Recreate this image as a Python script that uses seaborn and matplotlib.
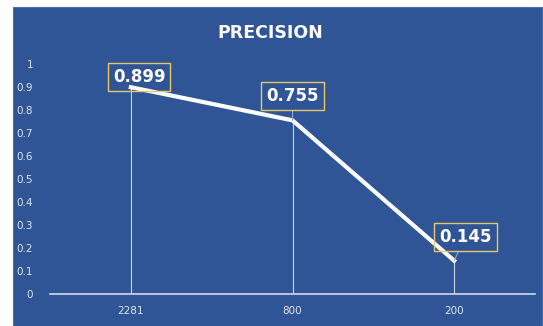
import pandas as pd
import seaborn as sns
import matplotlib.pyplot as plt
from matplotlib.patches import Rectangle

sizes = ['2281', '800', '200']
precision = [0.899, 0.755, 0.145]
yticks = [0, 0.1, 0.2, 0.3, 0.4, 0.5, 0.6, 0.7, 0.8, 0.9, 1]
ytick_labels = ['0', '0.1', '0.2', '0.3', '0.4', '0.5', '0.6', '0.7', '0.8', '0.9', '1']

df = pd.DataFrame({'size': sizes, 'precision': precision})

bg = '#2F5597'
fig = plt.figure(figsize=(5.43, 3.26), dpi=100)
fig.patch.set_facecolor('white')

# blue chart area
bg_ax = fig.add_axes([0, 0, 1, 1], zorder=-1)
bg_ax.axis('off')
bg_ax.add_patch(Rectangle((13 / 543, 0), 529 / 543, 1 - 7 / 326, transform=bg_ax.transAxes,
                          facecolor=bg, edgecolor='#4a6fb0', lw=0.8))

ax = fig.add_axes([50 / 543, 1 - 294 / 326, 485 / 543, 230 / 326])
ax.set_facecolor('none')

# drop lines
x = range(len(sizes))
ax.vlines(x, 0, df['precision'], color='#c9d3e6', lw=0.8, zorder=2)

sns.lineplot(data=df, x='size', y='precision', ax=ax, color='white', lw=3,
             sort=False, zorder=3)

offsets = [(6, 7.5), (0, 17.5), (8, 17)]
for i, v in enumerate(precision):
    ax.annotate(f'{v:.3f}', (i, v), xytext=offsets[i], textcoords='offset points',
                ha='center', va='center', color='white', fontsize=12, fontweight='bold',
                bbox=dict(boxstyle='square,pad=0.3', fc='none', ec='#E8C766', lw=1),
                arrowprops=dict(arrowstyle='-', color='#8fa6cf', lw=0.8, shrinkA=0, shrinkB=0)
                if i > 0 else None,
                zorder=5, annotation_clip=False)

ax.set_xlim(-0.5, 2.5)
ax.set_ylim(0, 1)
ax.set_yticks(yticks)
ax.set_yticklabels(ytick_labels)
ax.set_xlabel('')
ax.set_ylabel('')
for s in ['top', 'right', 'left']:
    ax.spines[s].set_visible(False)
ax.spines['bottom'].set_color('#d0d8ea')
ax.spines['bottom'].set_linewidth(1.2)
ax.tick_params(axis='both', length=0, colors='#dde4f2', labelsize=7.5)
ax.tick_params(axis='y', pad=12)
ax.tick_params(axis='x', pad=9)
ax.grid(False)

fig.text(270 / 543, 1 - 33 / 326, 'PRECISION', ha='center', va='center', color='white',
         fontsize=12.5, fontweight='bold')

fig.savefig('out.png', dpi=100)
